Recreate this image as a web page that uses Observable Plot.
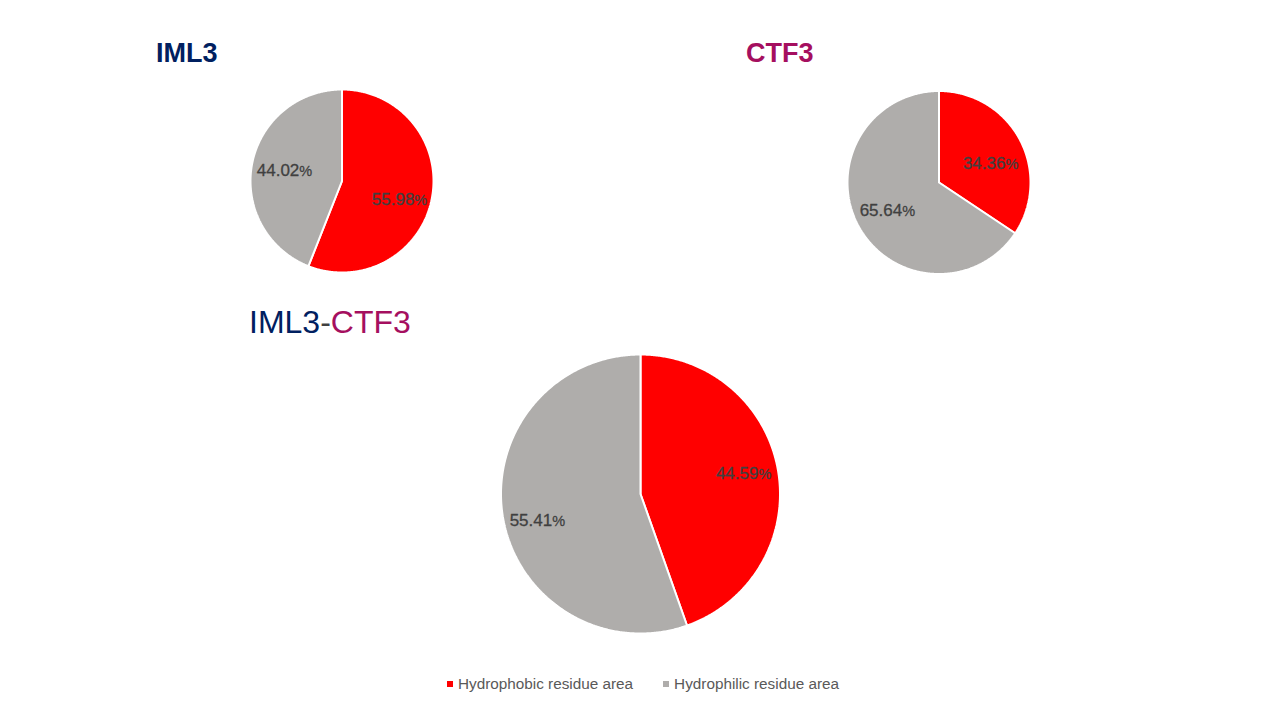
<!DOCTYPE html>
<html>
<head>
<meta charset="utf-8">
<script src="https://cdn.jsdelivr.net/npm/d3@7"></script>
<script src="https://cdn.jsdelivr.net/npm/@observablehq/plot@0.6"></script>
<style>
  html, body { margin: 0; padding: 0; background: #fff; }
  #wrap { position: relative; width: 1280px; height: 720px; overflow: hidden; font-family: "Liberation Sans", Arial, sans-serif; }
  #wrap svg { position: absolute; left: 0; top: 0; }
  .title { position: absolute; white-space: nowrap; line-height: 1; }
  .legend { position: absolute; top: 675px; left: 0; width: 1280px; display: flex; justify-content: center; gap: 30px; font-size: 15.3px; color: #595959; padding-left: 6px; box-sizing: border-box; }
  .legend span.sw { display: inline-block; width: 6px; height: 6px; margin-right: 5px; vertical-align: middle; position: relative; top: -1px; }
</style>
</head>
<body>
<div id="wrap"></div>
<script>
// ---- data ----
const charts = ["IML3", "CTF3", "IML3-CTF3"];
const categories = ["Hydrophobic residue area", "Hydrophilic residue area"];
const hydrophobic = [55.98, 34.36, 44.59];
const hydrophilic = [44.02, 65.64, 55.41];
const colors = ["#ff0000", "#afadab"];

// ---- layout (pixel geometry of each pie, and label nudges) ----
const layout = {
  "IML3":      {cx: 341.5, cy: 180.5, r: 91.5,  lr: 0.64, nudge: [8, 0]},
  "CTF3":      {cx: 938.5, cy: 182,   r: 91.5,  lr: 0.64, nudge: [9, 0]},
  "IML3-CTF3": {cx: 640,   cy: 493.5, r: 139.5, lr: 0.75, nudge: [-3, 9]}
};

const pie = d3.pie().sort(null).value(d => d.value);
const outline = [];
const labels = [];
charts.forEach((chart, i) => {
  const L = layout[chart];
  const rows = [
    {category: categories[0], value: hydrophobic[i]},
    {category: categories[1], value: hydrophilic[i]}
  ];
  pie(rows).forEach((a, j) => {
    const key = chart + "|" + j;
    outline.push({key, category: a.data.category, x: L.cx, y: L.cy});
    const n = Math.max(2, Math.ceil((a.endAngle - a.startAngle) / (Math.PI / 360)));
    for (let k = 0; k <= n; k++) {
      const t = a.startAngle + (a.endAngle - a.startAngle) * k / n;
      outline.push({key, category: a.data.category, x: L.cx + L.r * Math.sin(t), y: L.cy - L.r * Math.cos(t)});
    }
    outline.push({key, category: a.data.category, x: L.cx, y: L.cy});
    const m = (a.startAngle + a.endAngle) / 2;
    labels.push({
      text: a.data.value.toFixed(2) + "%",
      x: L.cx + L.lr * L.r * Math.sin(m),
      y: L.cy - L.lr * L.r * Math.cos(m) + L.nudge[j]
    });
  });
});

const plot = Plot.plot({
  width: 1280,
  height: 720,
  margin: 0,
  x: {type: "identity", axis: null},
  y: {type: "identity", axis: null},
  color: {domain: categories, range: colors},
  style: {fontFamily: "'Liberation Sans', Arial, sans-serif", background: "white"},
  marks: [
    Plot.line(outline, {x: "x", y: "y", z: "key", fill: "category", stroke: "white", strokeWidth: 2, strokeLinejoin: "miter", curve: "linear"}),
    Plot.text(labels, {x: "x", y: "y", text: "text", fill: "#404040", fontSize: 17, stroke: "#404040", strokeWidth: 0.3})
  ]
});

// make the percent sign a little smaller, as in the original
d3.select(plot).selectAll("text").each(function () {
  const t = this.textContent;
  if (t.endsWith("%")) {
    const sel = d3.select(this);
    sel.text(null);
    sel.append("tspan").text(t.slice(0, -1));
    sel.append("tspan").attr("font-size", 14.5).text("%");
  }
});

const wrap = document.getElementById("wrap");
wrap.appendChild(plot);

function addTitle(html, left, top, size, weight) {
  const d = document.createElement("div");
  d.className = "title";
  d.style.left = left + "px";
  d.style.top = top + "px";
  d.style.fontSize = size + "px";
  d.style.fontWeight = weight;
  d.innerHTML = html;
  wrap.appendChild(d);
}
addTitle('<span style="color:#002060">' + charts[0] + '</span>', 156, 40, 27, 700);
addTitle('<span style="color:#a50f5f">' + charts[1] + '</span>', 746, 40, 27, 700);
const [p1, p2] = charts[2].split("-");
addTitle('<span style="color:#002060">' + p1 + '</span><span style="color:#404040">-</span><span style="color:#a50f5f">' + p2 + '</span>', 249, 306, 32, 400);

const lg = document.createElement("div");
lg.className = "legend";
lg.innerHTML = categories.map((c, i) => '<div><span class="sw" style="background:' + colors[i] + '"></span>' + c + '</div>').join("");
wrap.appendChild(lg);
</script>
</body>
</html>
